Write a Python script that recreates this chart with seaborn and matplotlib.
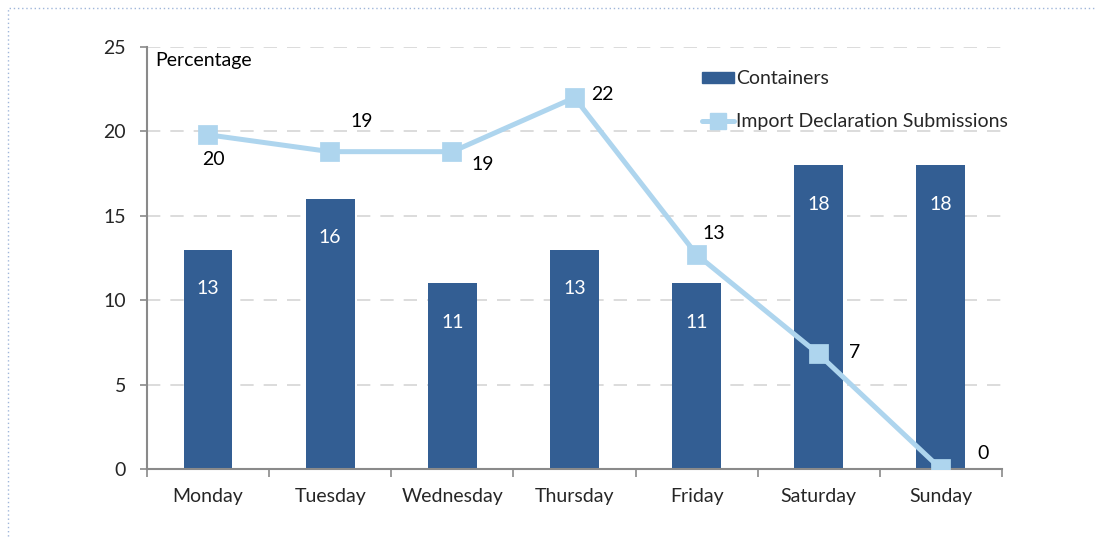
import matplotlib
matplotlib.use("Agg")
import matplotlib.pyplot as plt
import seaborn as sns
import pandas as pd
from matplotlib.patches import Rectangle
from matplotlib.lines import Line2D
from matplotlib.patches import Patch

days = ["Monday", "Tuesday", "Wednesday", "Thursday", "Friday", "Saturday", "Sunday"]
containers = [13, 16, 11, 13, 11, 18, 18]
submissions = [19.8, 18.8, 18.8, 22.0, 12.7, 6.8, 0.0]
submission_labels = ["20", "19", "19", "22", "13", "7", "0"]
y_ticks = [0, 5, 10, 15, 20, 25]

BAR = "#335E93"
LINE = "#AED5EE"
FS = 14

sns.set_theme(style="white")
plt.rcParams["font.family"] = ["Lato", "DejaVu Sans"]

df = pd.DataFrame({"day": days, "containers": containers, "subs": submissions})

fig = plt.figure(figsize=(10.97, 5.39), dpi=100)
ax = fig.add_axes([147/1097, 1-469/539, (1002-147)/1097, (469-47)/539])

sns.barplot(data=df, x="day", y="containers", color=BAR, width=0.4, ax=ax,
            saturation=1, linewidth=0, zorder=2)
sns.pointplot(data=df, x="day", y="subs", color=LINE, markers="s", markersize=11.5,
              linewidth=3.6, ax=ax, zorder=3)

ax.set_ylim(0, 25)
ax.set_xlim(-0.5, 6.5)
ax.set_yticks(y_ticks)
ax.set_yticklabels([str(t) for t in y_ticks], fontsize=FS)
ax.set_xlabel("")
ax.set_ylabel("")
ax.set_xticks(range(7))
ax.set_xticklabels(days, fontsize=FS)
ax.tick_params(axis="x", length=0, pad=14)
ax.tick_params(axis="y", length=5, width=1.2, color="#8a8a8a", direction="out", left=True, pad=10)
ax.set_xticks([i - 0.5 for i in range(8)], minor=True)
ax.tick_params(axis="x", which="minor", length=6, width=1.2, color="#8a8a8a", direction="out", bottom=True)

for y in y_ticks[1:]:
    ax.axhline(y, color="#d6d6d6", lw=1.2, ls=(0, (8, 6)), zorder=1)

for s in ["top", "right"]:
    ax.spines[s].set_visible(False)
for s in ["left", "bottom"]:
    ax.spines[s].set_color("#8a8a8a")
    ax.spines[s].set_linewidth(1.5)

for i, v in enumerate(containers):
    ax.annotate(str(v), (i, v), xytext=(0, -28), textcoords="offset points",
                ha="center", va="center", color="white", fontsize=FS)

offs = [(4, -18), (23, 22), (22, -9), (20, 2), (12, 15), (26, 1), (30, 11)]
for i, (v, lab) in enumerate(zip(submissions, submission_labels)):
    ax.annotate(lab, (i, v), xytext=offs[i], textcoords="offset points",
                ha="center", va="center", color="black", fontsize=FS)

ax.text(0.010, 0.967, "Percentage", transform=ax.transAxes, fontsize=FS,
        ha="left", va="center", color="black")

handles = [Patch(facecolor=BAR, edgecolor=BAR),
           Line2D([0], [0], color=LINE, lw=3.6, marker="s", markersize=11.5)]
leg = fig.legend(handles, ["Containers", "Import Declaration Submissions"],
                 loc="upper left", bbox_to_anchor=(684/1097, 1-53/539), frameon=False,
                 fontsize=FS, handlelength=1.65, handleheight=0.5, handletextpad=0.15,
                 labelspacing=1.3)

fig.patches.append(Rectangle((8/1097, -0.02), 1.2, 1 - 8/539 + 0.02, transform=fig.transFigure,
                             fill=False, edgecolor="#9fb6da", lw=1, ls=(0, (1, 2))))

fig.savefig("out.png", dpi=100)
